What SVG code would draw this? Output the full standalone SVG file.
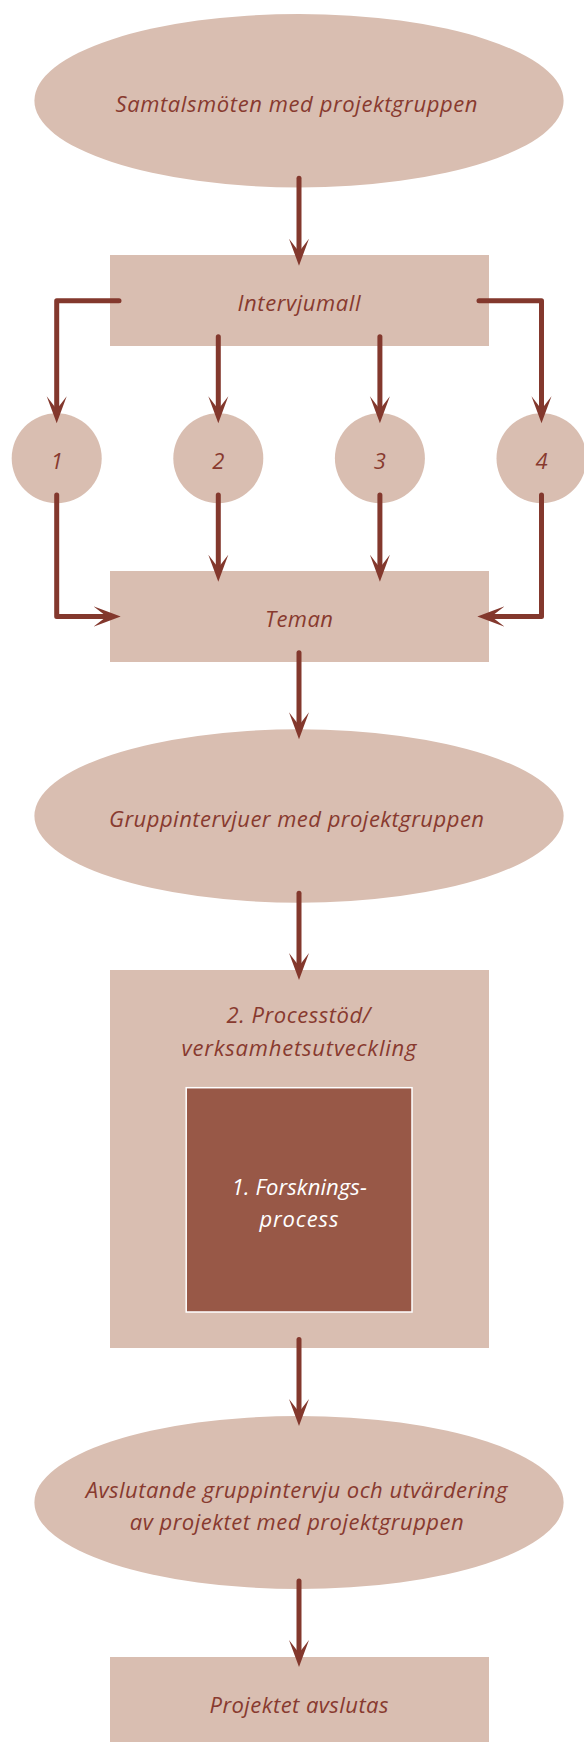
<svg xmlns="http://www.w3.org/2000/svg" width="584" height="1742" viewBox="0 0 584 1742">
<defs>
<style>
.n{fill:#D9BEB1}
.t{font-family:"Open Sans","Noto Sans","DejaVu Sans",sans-serif;font-style:italic;font-size:22px;fill:#883A2F;text-anchor:middle}
.w{fill:#FFFFFF}
.c{fill:none;stroke:#83382D;stroke-width:5;stroke-linecap:round;stroke-linejoin:round;marker-end:url(#ah)}
</style>
<marker id="ah" viewBox="0 0 28 22" refX="13" refY="11" markerWidth="28" markerHeight="22" markerUnits="userSpaceOnUse" orient="auto">
<path d="M27,11 L0,1 L13,11 L0,21 Z" fill="#83382D"/>
</marker>
</defs>
<rect width="584" height="1742" fill="#FFFFFF"/>
<g id="n-samtal">
<ellipse class="n" cx="299" cy="100.7" rx="264.6" ry="86.7"/>
<text class="t" x="296.5" y="112" textLength="362">Samtalsmöten med projektgruppen</text>
</g>
<g id="n-intervjumall">
<rect class="n" x="110" y="255" width="379" height="91"/>
<text class="t" x="299" y="311" textLength="123">Intervjumall</text>
</g>
<g id="n-1">
<circle class="n" cx="56.7" cy="458.3" r="45"/>
<text class="t" x="56.7" y="469.3">1</text>
</g>
<g id="n-2">
<circle class="n" cx="218.3" cy="458.3" r="45"/>
<text class="t" x="218.3" y="469.3">2</text>
</g>
<g id="n-3">
<circle class="n" cx="379.9" cy="458.3" r="45"/>
<text class="t" x="379.9" y="469.3">3</text>
</g>
<g id="n-4">
<circle class="n" cx="541.5" cy="458.3" r="45"/>
<text class="t" x="541.5" y="469.3">4</text>
</g>
<g id="n-teman">
<rect class="n" x="110" y="571" width="379" height="91"/>
<text class="t" x="299" y="626.7" textLength="68">Teman</text>
</g>
<g id="n-gruppintervjuer">
<ellipse class="n" cx="299" cy="816" rx="264.6" ry="86.7"/>
<text class="t" x="296.5" y="826.7" textLength="375">Gruppintervjuer med projektgruppen</text>
</g>
<g id="n-processtod">
<rect class="n" x="110" y="970" width="379" height="378"/>
<text class="t" x="298.5" y="1023.3" textLength="144">2. Processtöd/</text>
<text class="t" x="299" y="1056" textLength="235">verksamhetsutveckling</text>
</g>
<g id="n-forskning">
<rect x="186.2" y="1087.7" width="225.8" height="224.3" fill="#985847" stroke="#FFFFFF" stroke-width="1.5"/>
<text class="t w" x="299.3" y="1195.4" textLength="135">1. Forsknings-</text>
<text class="t w" x="298.9" y="1226.9" textLength="79">process</text>
</g>
<g id="n-avslutande">
<ellipse class="n" cx="299" cy="1502.5" rx="264.6" ry="86.5"/>
<text class="t" x="296.5" y="1498.3" textLength="421.6">Avslutande gruppintervju och utvärdering</text>
<text class="t" x="296.7" y="1529.8" textLength="334">av projektet med projektgruppen</text>
</g>
<g id="n-avslutas">
<rect class="n" x="110" y="1657" width="379" height="91"/>
<text class="t" x="299" y="1712.8" textLength="179">Projektet avslutas</text>
</g>
<g id="connectors">
<path class="c" d="M299,178.3 V251.7"/>
<path class="c" d="M119,300.7 H56.7 V409.3"/>
<path class="c" d="M218.3,336.7 V409.3"/>
<path class="c" d="M379.9,336.7 V409.3"/>
<path class="c" d="M479,300.7 H541.5 V409.3"/>
<path class="c" d="M56.7,495 V616.5 H106.7"/>
<path class="c" d="M218.3,495 V567.7"/>
<path class="c" d="M379.9,495 V567.7"/>
<path class="c" d="M541.5,495 V616.5 H491.3"/>
<path class="c" d="M299,652.7 V725.3"/>
<path class="c" d="M299,893.3 V966"/>
<path class="c" d="M299,1339.5 V1412"/>
<path class="c" d="M299,1581 V1653"/>
</g>
</svg>
